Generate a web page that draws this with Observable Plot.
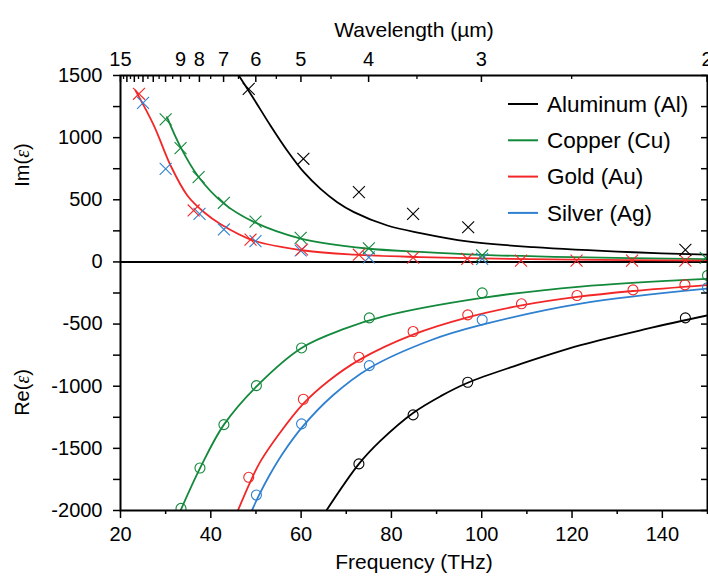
<!DOCTYPE html>
<html>
<head>
<meta charset="utf-8">
<script src="https://cdn.jsdelivr.net/npm/d3@7"></script>
<script src="https://cdn.jsdelivr.net/npm/@observablehq/plot@0.6"></script>
<style>
  html, body { margin: 0; padding: 0; background: #fff; }
  #chart { width: 708px; height: 583px; overflow: hidden; }
  #chart svg { display: block; }
</style>
</head>
<body>
<div id="chart"></div>
<script>
// ---------------- DATA ----------------
const C_UM_THZ = 299.792458; // wavelength(µm) * frequency(THz)

const materials = ["Aluminum (Al)", "Copper (Cu)", "Gold (Au)", "Silver (Ag)"];
const colors    = ["#000000", "#13893b", "#f22727", "#2f80d0"];

// Measured Im(ε) (crosses): [frequency THz, value]
const alImPts = [[48.4,1393],[60.5,830],[72.8,561],[84.8,387],[97.0,279],[145.1,97]];
const cuImPts = [[30.0,1147],[33.3,915],[37.3,682],[42.9,476],[49.9,325],[59.9,194],[75.0,110],[100.1,52],[149.6,33]];
const auImPts = [[24.1,1353],[36.2,414],[48.8,180],[60.2,100],[72.8,58],[84.8,35],[96.8,25],[108.7,11],[121.0,11],[133.3,11],[145.1,11]];
const agImPts = [[25.0,1280],[30.0,749],[37.5,387],[42.9,261],[49.9,167],[59.9,92],[75.0,37],[100.1,25]];

// Measured Re(ε) (circles)
const alRePts = [[72.8,-1625],[84.8,-1231],[96.9,-968],[145.1,-450]];
const cuRePts = [[33.4,-1983],[37.6,-1658],[42.9,-1309],[50.1,-995],[60.1,-692],[75.1,-450],[100.1,-249],[150.0,-109]];
const auRePts = [[48.4,-1733],[60.5,-1105],[72.8,-767],[84.8,-560],[96.9,-426],[108.8,-337],[121.1,-270],[133.5,-225],[145.0,-184]];
const agRePts = [[50.1,-1875],[60.1,-1303],[75.1,-834],[100.1,-466],[150.0,-208]];

// Fitted curves
const alImFit = [[46.2,1500],[49.5,1313],[53.2,1098],[56.9,897],[60.6,722],[64.3,588],[68.0,481],[71.7,401],[79.1,293],[86.4,232],[96.8,165],[111.5,119],[133.6,78],[150.0,58]];
const cuImFit = [[30.3,1165],[33.3,924],[37.3,683],[42.9,469],[49.5,322],[59.9,188],[74.6,108],[86.4,81],[100.0,57],[120.0,38],[150.0,22]];
const auImFit = [[23.3,1380],[27.4,1097],[31.1,775],[34.8,535],[38.5,400],[42.1,306],[49.5,172],[60.6,92],[71.7,58],[86.4,39],[100.0,28],[120.0,18],[150.0,10]];

const alReFit = [[65.6,-2000],[72.8,-1625],[77.6,-1438],[84.8,-1215],[90.9,-1080],[96.9,-972],[107.1,-840],[121.9,-670],[136.7,-537],[149.9,-431]];
const cuReFit = [[33.3,-2000],[37.7,-1653],[42.9,-1309],[50.3,-995],[60.1,-692],[69.5,-539],[78.7,-434],[100.1,-289],[121.9,-198],[149.9,-136]];
const auReFit = [[46.0,-2000],[48.8,-1765],[51.0,-1605],[55.0,-1390],[60.5,-1140],[66.0,-960],[72.8,-790],[84.8,-585],[96.9,-446],[108.8,-350],[121.1,-282],[133.5,-234],[149.9,-186]];
const agReFit = [[49.1,-2000],[50.7,-1875],[53.0,-1716],[56.0,-1537],[60.1,-1335],[67.0,-1075],[75.1,-855],[88.7,-630],[100.1,-505],[121.9,-335],[149.9,-215]];

// Axis ticks
const xTickLabels  = [20, 40, 60, 80, 100, 120, 140];
const xTickMinor   = [30, 50, 70, 90, 110, 130, 150];
const yTickLabels  = [-2000, -1500, -1000, -500, 0, 500, 1000, 1500];
const yTickMinor   = [-1750, -1250, -750, -250, 250, 750, 1250];
const wlTickLabels = [15, 9, 8, 7, 6, 5, 4, 3, 2];
const wlTickMajor  = [15, 14, 13, 12, 11, 10, 9, 8, 7, 6, 5, 4, 3, 2];
const wlTickMinor  = [14.5, 13.5, 12.5, 11.5, 10.5, 9.5, 8.5, 7.5, 6.5, 5.5, 4.5, 3.5, 2.5];

// ---------------- CHART ----------------
const FONT = "'Liberation Sans', Arial, Helvetica, sans-serif";
const W = 708, H = 583;
const mL = 120, mR = 1, mT = 75, mB = 73;
const plotW = W - mL - mR, plotH = H - mT - mB;

const rows = (pts) => pts.map(([f, v]) => ({f, v}));

const fits = [
  [alImFit, 0], [cuImFit, 1], [auImFit, 2],
  [alReFit, 0], [cuReFit, 1], [auReFit, 2], [agReFit, 3]
];
const crosses = [[agImPts, 3], [auImPts, 2], [cuImPts, 1], [alImPts, 0]];
const circles = [[agRePts, 3], [auRePts, 2], [cuRePts, 1], [alRePts, 0]];

const marks = [
  Plot.ruleY([0], {stroke: "black", strokeWidth: 2}),
  ...fits.map(([pts, i]) => Plot.line(rows(pts), {
    x: "f", y: "v", stroke: colors[i], strokeWidth: 1.8, curve: "catmull-rom", clip: true
  })),
  ...crosses.map(([pts, i]) => Plot.dot(rows(pts), {
    x: "f", y: "v", symbol: "times", r: 5.5, stroke: colors[i], fill: "none", strokeWidth: 1.1, clip: true
  })),
  ...circles.map(([pts, i]) => Plot.dot(rows(pts), {
    x: "f", y: "v", symbol: "circle", r: 5, stroke: colors[i], fill: "none", strokeWidth: 1.1, clip: true
  })),
  // bottom axis
  Plot.axisX(xTickLabels, {anchor: "bottom", tickSize: 8, tickPadding: 8, strokeWidth: 1.5, label: null, tickFormat: d => String(d)}),
  Plot.ruleX(xTickMinor, {insetTop: plotH, insetBottom: -4, strokeWidth: 1.5}),
  // left axis
  Plot.axisY(yTickLabels, {anchor: "left", tickSize: 7, tickPadding: 11, strokeWidth: 1.5, label: null, tickFormat: d => String(d)}),
  Plot.ruleY(yTickMinor, {insetLeft: -7, insetRight: plotW, strokeWidth: 1.5}),
  // right axis (inward ticks)
  Plot.ruleY([...yTickLabels, ...yTickMinor], {insetLeft: plotW - 6, strokeWidth: 1.5}),
  // top axis (wavelength)
  Plot.axisX(wlTickLabels.map(w => C_UM_THZ / w), {anchor: "top", tickSize: 0, tickPadding: 10, label: null, tickFormat: d => String(Math.round(C_UM_THZ / d))}),
  Plot.ruleX(wlTickMajor.map(w => C_UM_THZ / w), {insetBottom: plotH - 7, strokeWidth: 1.5}),
  Plot.ruleX(wlTickMinor.map(w => C_UM_THZ / w), {insetBottom: plotH - 4, strokeWidth: 1.3}),
  Plot.frame({stroke: "black", strokeWidth: 2}),
  // axis titles
  Plot.text(["Wavelength (µm)"], {text: d => d, frameAnchor: "top", dy: -53, fontSize: 21}),
  Plot.text(["Frequency (THz)"], {text: d => d, frameAnchor: "bottom", dy: 58, fontSize: 21}),
  Plot.text([{y: 780, t: "Im(ε)"}, {y: -1050, t: "Re(ε)"}], {y: "y", text: "t", frameAnchor: "left", textAnchor: "middle", lineAnchor: "middle", dx: -98, rotate: -90, fontSize: 20})
];

const chart = Plot.plot({
  width: W,
  height: H,
  marginLeft: mL, marginRight: mR, marginTop: mT, marginBottom: mB,
  x: {type: "linear", domain: [20, 150]},
  y: {type: "linear", domain: [-2000, 1500]},
  style: {fontFamily: FONT, fontSize: "20px", color: "black", background: "white", overflow: "visible"},
  marks
});

// italic epsilon
d3.select(chart).selectAll("text").each(function () {
  const s = this.textContent;
  if (!s.includes("ε")) return;
  const parts = s.split("ε");
  const el = d3.select(this);
  el.text(null);
  el.append("tspan").text(parts[0]);
  el.append("tspan").attr("font-style", "italic").attr("font-family", "'Liberation Serif', 'DejaVu Serif', serif").text("ε");
  el.append("tspan").text(parts[1]);
});

// legend (inside plot, top right)
const legend = d3.select(chart).append("g")
  .attr("font-family", FONT).attr("font-size", 22.5).attr("text-anchor", "start");
materials.forEach((name, i) => {
  const yy = 104 + i * 36.3;
  legend.append("line").attr("x1", 508).attr("x2", 538).attr("y1", yy).attr("y2", yy)
    .attr("stroke", colors[i]).attr("stroke-width", 2);
  legend.append("text").attr("x", 547).attr("y", yy).attr("dy", "0.35em")
    .attr("text-anchor", "start").attr("fill", "black").text(name);
});

document.getElementById("chart").appendChild(chart);
</script>
</body>
</html>
